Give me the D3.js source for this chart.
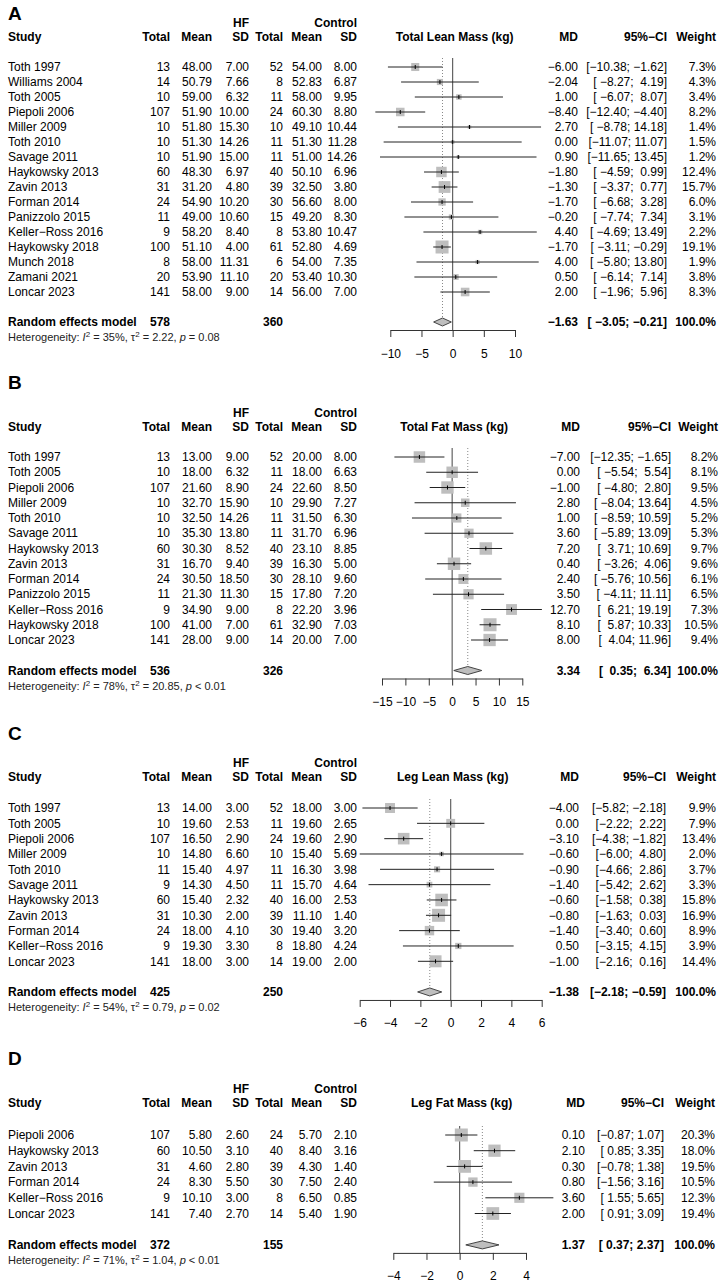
<!DOCTYPE html>
<html>
<head>
<meta charset="utf-8">
<script src="https://cdn.jsdelivr.net/npm/d3@7"></script>
<style>
  body { margin: 0; background: #fff; }
  text { font-family: "Liberation Sans", Arial, Helvetica, sans-serif; white-space: pre; }
</style>
</head>
<body>
<svg id="chart" width="723" height="1285"></svg>
<script>
// row: study, HF total, HF mean, HF sd, control total, control mean, control sd, MD, lower, upper, weight %
const leanMassRows = [
  ['Toth 1997', 13, 48.00, 7.00, 52, 54.00, 8.00, -6.00, -10.38, -1.62, 7.3],
  ['Williams 2004', 14, 50.79, 7.66, 8, 52.83, 6.87, -2.04, -8.27, 4.19, 4.3],
  ['Toth 2005', 10, 59.00, 6.32, 11, 58.00, 9.95, 1.00, -6.07, 8.07, 3.4],
  ['Piepoli 2006', 107, 51.90, 10.00, 24, 60.30, 8.80, -8.40, -12.40, -4.40, 8.2],
  ['Miller 2009', 10, 51.80, 15.30, 10, 49.10, 10.44, 2.70, -8.78, 14.18, 1.4],
  ['Toth 2010', 10, 51.30, 14.26, 11, 51.30, 11.28, 0.00, -11.07, 11.07, 1.5],
  ['Savage 2011', 10, 51.90, 15.00, 11, 51.00, 14.26, 0.90, -11.65, 13.45, 1.2],
  ['Haykowsky 2013', 60, 48.30, 6.97, 40, 50.10, 6.96, -1.80, -4.59, 0.99, 12.4],
  ['Zavin 2013', 31, 31.20, 4.80, 39, 32.50, 3.80, -1.30, -3.37, 0.77, 15.7],
  ['Forman 2014', 24, 54.90, 10.20, 30, 56.60, 8.00, -1.70, -6.68, 3.28, 6.0],
  ['Panizzolo 2015', 11, 49.00, 10.60, 15, 49.20, 8.30, -0.20, -7.74, 7.34, 3.1],
  ['Keller\u2212Ross 2016', 9, 58.20, 8.40, 8, 53.80, 10.47, 4.40, -4.69, 13.49, 2.2],
  ['Haykowsky 2018', 100, 51.10, 4.00, 61, 52.80, 4.69, -1.70, -3.11, -0.29, 19.1],
  ['Munch 2018', 8, 58.00, 11.31, 6, 54.00, 7.35, 4.00, -5.80, 13.80, 1.9],
  ['Zamani 2021', 20, 53.90, 11.10, 20, 53.40, 10.30, 0.50, -6.14, 7.14, 3.8],
  ['Loncar 2023', 141, 58.00, 9.00, 14, 56.00, 7.00, 2.00, -1.96, 5.96, 8.3]
];
const fatMassRows = [
  ['Toth 1997', 13, 13.00, 9.00, 52, 20.00, 8.00, -7.00, -12.35, -1.65, 8.2],
  ['Toth 2005', 10, 18.00, 6.32, 11, 18.00, 6.63, 0.00, -5.54, 5.54, 8.1],
  ['Piepoli 2006', 107, 21.60, 8.90, 24, 22.60, 8.50, -1.00, -4.80, 2.80, 9.5],
  ['Miller 2009', 10, 32.70, 15.90, 10, 29.90, 7.27, 2.80, -8.04, 13.64, 4.5],
  ['Toth 2010', 10, 32.50, 14.26, 11, 31.50, 6.30, 1.00, -8.59, 10.59, 5.2],
  ['Savage 2011', 10, 35.30, 13.80, 11, 31.70, 6.96, 3.60, -5.89, 13.09, 5.3],
  ['Haykowsky 2013', 60, 30.30, 8.52, 40, 23.10, 8.85, 7.20, 3.71, 10.69, 9.7],
  ['Zavin 2013', 31, 16.70, 9.40, 39, 16.30, 5.00, 0.40, -3.26, 4.06, 9.6],
  ['Forman 2014', 24, 30.50, 18.50, 30, 28.10, 9.60, 2.40, -5.76, 10.56, 6.1],
  ['Panizzolo 2015', 11, 21.30, 11.30, 15, 17.80, 7.20, 3.50, -4.11, 11.11, 6.5],
  ['Keller\u2212Ross 2016', 9, 34.90, 9.00, 8, 22.20, 3.96, 12.70, 6.21, 19.19, 7.3],
  ['Haykowsky 2018', 100, 41.00, 7.00, 61, 32.90, 7.03, 8.10, 5.87, 10.33, 10.5],
  ['Loncar 2023', 141, 28.00, 9.00, 14, 20.00, 7.00, 8.00, 4.04, 11.96, 9.4]
];
const legLeanRows = [
  ['Toth 1997', 13, 14.00, 3.00, 52, 18.00, 3.00, -4.00, -5.82, -2.18, 9.9],
  ['Toth 2005', 10, 19.60, 2.53, 11, 19.60, 2.65, 0.00, -2.22, 2.22, 7.9],
  ['Piepoli 2006', 107, 16.50, 2.90, 24, 19.60, 2.90, -3.10, -4.38, -1.82, 13.4],
  ['Miller 2009', 10, 14.80, 6.60, 10, 15.40, 5.69, -0.60, -6.00, 4.80, 2.0],
  ['Toth 2010', 11, 15.40, 4.97, 11, 16.30, 3.98, -0.90, -4.66, 2.86, 3.7],
  ['Savage 2011', 9, 14.30, 4.50, 11, 15.70, 4.64, -1.40, -5.42, 2.62, 3.3],
  ['Haykowsky 2013', 60, 15.40, 2.32, 40, 16.00, 2.53, -0.60, -1.58, 0.38, 15.8],
  ['Zavin 2013', 31, 10.30, 2.00, 39, 11.10, 1.40, -0.80, -1.63, 0.03, 16.9],
  ['Forman 2014', 24, 18.00, 4.10, 30, 19.40, 3.20, -1.40, -3.40, 0.60, 8.9],
  ['Keller\u2212Ross 2016', 9, 19.30, 3.30, 8, 18.80, 4.24, 0.50, -3.15, 4.15, 3.9],
  ['Loncar 2023', 141, 18.00, 3.00, 14, 19.00, 2.00, -1.00, -2.16, 0.16, 14.4]
];
const legFatRows = [
  ['Piepoli 2006', 107, 5.80, 2.60, 24, 5.70, 2.10, 0.10, -0.87, 1.07, 20.3],
  ['Haykowsky 2013', 60, 10.50, 3.10, 40, 8.40, 3.16, 2.10, 0.85, 3.35, 18.0],
  ['Zavin 2013', 31, 4.60, 2.80, 39, 4.30, 1.40, 0.30, -0.78, 1.38, 19.5],
  ['Forman 2014', 24, 8.30, 5.50, 30, 7.50, 2.40, 0.80, -1.56, 3.16, 10.5],
  ['Keller\u2212Ross 2016', 9, 10.10, 3.00, 8, 6.50, 0.85, 3.60, 1.55, 5.65, 12.3],
  ['Loncar 2023', 141, 7.40, 2.70, 14, 5.40, 1.90, 2.00, 0.91, 3.09, 19.4]
];

// pooled: HF total, control total, MD, lower, upper
const leanMassPooled = [578, 360, -1.63, -3.05, -0.21];
const fatMassPooled = [536, 326, 3.34, 0.35, 6.34];
const legLeanPooled = [425, 250, -1.38, -2.18, -0.59];
const legFatPooled = [372, 155, 1.37, 0.37, 2.37];

// heterogeneity: I2 %, tau2, p text
const leanMassHet = ['35%', '2.22', '= 0.08'];
const fatMassHet = ['78%', '20.85', '< 0.01'];
const legLeanHet = ['54%', '0.79', '= 0.02'];
const legFatHet = ['71%', '1.04', '< 0.01'];

const panelLetters = ['A', 'B', 'C', 'D'];
const outcomeLabels = ['Total Lean Mass (kg)', 'Total Fat Mass (kg)', 'Leg Lean Mass (kg)', 'Leg Fat Mass (kg)'];
const leanMassTicks = [-10, -5, 0, 5, 10];
const fatMassTicks = [-15, -10, -5, 0, 5, 10, 15];
const legLeanTicks = [-6, -4, -2, 0, 2, 4, 6];
const legFatTicks = [-4, -2, 0, 2, 4];

const panels = [
  { rows: leanMassRows, pooled: leanMassPooled, het: leanMassHet, ticks: leanMassTicks },
  { rows: fatMassRows, pooled: fatMassPooled, het: fatMassHet, ticks: fatMassTicks },
  { rows: legLeanRows, pooled: legLeanPooled, het: legLeanHet, ticks: legLeanTicks },
  { rows: legFatRows, pooled: legFatPooled, het: legFatHet, ticks: legFatTicks }
];

// page layout (pixels)
const layout = [
  { title: 13, hf: 23, head: 37, row0: 67, rowH: 15, x0: 390.3, x1: 515, md: 578, ci: 667, wt: 716 },
  { title: 382, hf: 413, head: 427, row0: 457, rowH: 15.25, x0: 382, x1: 522.3, md: 580, ci: 671, wt: 718 },
  { title: 733, hf: 763, head: 777, row0: 808, rowH: 15.33, x0: 359.7, x1: 541.7, md: 579, ci: 666, wt: 716 },
  { title: 1058, hf: 1089, head: 1103, row0: 1135, rowH: 15.7, x0: 393.3, x1: 526, md: 585, ci: 664, wt: 715 }
];
const leftCols = [170, 212, 249, 283, 322, 357];
const fontSize = 12;

const svg = d3.select('#chart');
const minus = s => s.replace(/-/g, '\u2212');
const f2 = v => v.toFixed(2);

function txt(g, x, y, s, anchor, bold, size) {
  return g.append('text')
    .attr('x', x).attr('y', y)
    .attr('dy', '0.35em')
    .attr('text-anchor', anchor || 'start')
    .attr('font-size', size || fontSize)
    .attr('font-weight', bold ? 'bold' : null)
    .attr('fill', '#000')
    .text(s);
}

panels.forEach((p, k) => {
  const L = layout[k];
  const g = svg.append('g');
  const x = d3.scaleLinear()
    .domain([p.ticks[0], p.ticks[p.ticks.length - 1]])
    .range([L.x0, L.x1]);
  const yRow = i => L.row0 + i * L.rowH;
  const n = p.rows.length;
  const yPool = yRow(n + 1);
  const yHet = yRow(n + 2);
  const yAxis = yPool + 8;

  // CI text padding like R's meta output
  const loW = d3.max([...p.rows.map(r => f2(r[8])), f2(p.pooled[3])], s => s.length);
  const hiW = d3.max([...p.rows.map(r => f2(r[9])), f2(p.pooled[4])], s => s.length);
  const ciText = (lo, hi) => minus('[' + f2(lo).padStart(loW) + '; ' + f2(hi).padStart(hiW) + ']');

  // headers
  txt(g, 8, L.title, panelLetters[k], 'start', true, 19);
  txt(g, leftCols[2], L.hf, 'HF', 'end', true);
  txt(g, leftCols[5], L.hf, 'Control', 'end', true);
  txt(g, 8, L.head, 'Study', 'start', true);
  ['Total', 'Mean', 'SD', 'Total', 'Mean', 'SD'].forEach((h, j) => txt(g, leftCols[j], L.head, h, 'end', true));
  txt(g, (L.x0 + L.x1) / 2 + 2, L.head, outcomeLabels[k], 'middle', true);
  txt(g, L.md, L.head, 'MD', 'end', true);
  txt(g, L.ci, L.head, '95%\u2212CI', 'end', true);
  txt(g, L.wt, L.head, 'Weight', 'end', true);

  // study rows text
  p.rows.forEach((r, i) => {
    const y = yRow(i);
    txt(g, 8, y, r[0]);
    txt(g, leftCols[0], y, String(r[1]), 'end');
    txt(g, leftCols[1], y, f2(r[2]), 'end');
    txt(g, leftCols[2], y, f2(r[3]), 'end');
    txt(g, leftCols[3], y, String(r[4]), 'end');
    txt(g, leftCols[4], y, f2(r[5]), 'end');
    txt(g, leftCols[5], y, f2(r[6]), 'end');
    txt(g, L.md, y, minus(f2(r[7])), 'end');
    txt(g, L.ci, y, ciText(r[8], r[9]), 'end');
    txt(g, L.wt, y, r[10].toFixed(1) + '%', 'end');
  });

  // pooled row
  txt(g, 8, yPool, 'Random effects model', 'start', true);
  txt(g, leftCols[0], yPool, String(p.pooled[0]), 'end', true);
  txt(g, leftCols[3], yPool, String(p.pooled[1]), 'end', true);
  txt(g, L.md, yPool, minus(f2(p.pooled[2])), 'end', true);
  txt(g, L.ci, yPool, ciText(p.pooled[3], p.pooled[4]), 'end', true);
  txt(g, L.wt, yPool, '100.0%', 'end', true);

  // heterogeneity
  const het = txt(g, 8, yHet, '', 'start', false, 11).attr('fill', '#222');
  het.append('tspan').text('Heterogeneity: ');
  het.append('tspan').attr('font-style', 'italic').text('I');
  het.append('tspan').attr('font-size', 8).attr('dy', -4).text('2');
  het.append('tspan').attr('dy', 4).text(' = ' + p.het[0] + ', \u03c4');
  het.append('tspan').attr('font-size', 8).attr('dy', -4).text('2');
  het.append('tspan').attr('dy', 4).text(' = ' + p.het[1] + ', ');
  het.append('tspan').attr('font-style', 'italic').text('p');
  het.append('tspan').text(' ' + p.het[2]);

  // reference lines
  const yTop = L.row0 - 9;
  g.append('line')
    .attr('x1', x(0)).attr('x2', x(0))
    .attr('y1', yTop).attr('y2', yAxis)
    .attr('stroke', '#555').attr('stroke-width', 1.1);
  g.append('line')
    .attr('x1', x(p.pooled[2])).attr('x2', x(p.pooled[2]))
    .attr('y1', yTop).attr('y2', yPool - 4)
    .attr('stroke', '#888').attr('stroke-width', 1)
    .attr('stroke-dasharray', '1,2');

  // squares sized by weight
  const maxW = d3.max(p.rows, r => r[10]);
  const side = d3.scaleSqrt().domain([0, maxW]).range([0, 13]);
  const marks = g.append('g');
  marks.selectAll('rect').data(p.rows).join('rect')
    .attr('x', r => x(r[7]) - side(r[10]) / 2)
    .attr('y', (r, i) => yRow(i) - side(r[10]) / 2)
    .attr('width', r => side(r[10]))
    .attr('height', r => side(r[10]))
    .attr('fill', '#bebebe');
  marks.selectAll('line.ci').data(p.rows).join('line')
    .attr('class', 'ci')
    .attr('x1', r => x(r[8])).attr('x2', r => x(r[9]))
    .attr('y1', (r, i) => yRow(i)).attr('y2', (r, i) => yRow(i))
    .attr('stroke', '#222').attr('stroke-width', 1);
  marks.selectAll('line.est').data(p.rows).join('line')
    .attr('class', 'est')
    .attr('x1', r => x(r[7])).attr('x2', r => x(r[7]))
    .attr('y1', (r, i) => yRow(i) - 2).attr('y2', (r, i) => yRow(i) + 2)
    .attr('stroke', '#000').attr('stroke-width', 1);

  // pooled diamond
  const d = p.pooled;
  g.append('polygon')
    .attr('points', [[x(d[3]), yPool], [x(d[2]), yPool - 4], [x(d[4]), yPool], [x(d[2]), yPool + 4]].join(' '))
    .attr('fill', '#bebebe').attr('stroke', '#444').attr('stroke-width', 1);

  // axis
  const ax = g.append('g')
    .attr('transform', `translate(0,${yAxis})`)
    .call(d3.axisBottom(x).tickValues(p.ticks).tickSize(7).tickSizeOuter(0).tickPadding(12));
  ax.selectAll('path, line').attr('stroke', '#333');
  ax.selectAll('text')
    .attr('font-size', fontSize)
    .attr('font-family', '"Liberation Sans", Arial, sans-serif')
    .attr('fill', '#000');
});
</script>
</body>
</html>
